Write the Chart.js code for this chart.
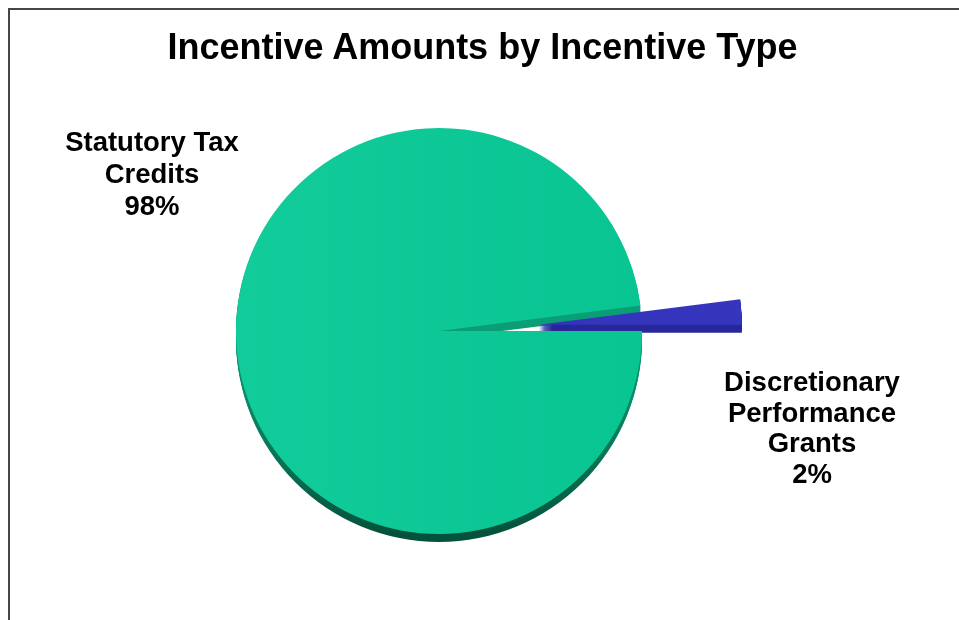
<!DOCTYPE html>
<html>
<head>
<meta charset="utf-8">
<script src="https://cdn.jsdelivr.net/npm/chart.js@4"></script>
<style>
  html, body { margin: 0; padding: 0; background: #fff; }
  body { width: 959px; height: 620px; position: relative; overflow: hidden; font-family: Arial, "Liberation Sans", sans-serif; }
  .frame { position: absolute; left: 8px; top: 8px; width: 1000px; height: 700px; border-left: 2px solid #474747; border-top: 2px solid #474747; }
  #wrap { position: absolute; left: 0; top: 0; width: 959px; height: 620px; }
  .title { position: absolute; left: 0; width: 965px; top: 26px; text-align: center; font-weight: bold; font-size: 36px; color: #000; }
  .lbl { position: absolute; text-align: center; font-weight: bold; font-size: 27.5px; color: #000; width: 260px; }
</style>
</head>
<body>
<div class="frame"></div>
<div id="wrap"><canvas id="myChart" width="959" height="620"></canvas></div>
<div class="title" id="chartTitle"></div>
<div class="lbl" id="lbl0" style="left:22px; top:126px; line-height:32px;"></div>
<div class="lbl" id="lbl1" style="left:682px; top:367px; line-height:30.5px;"></div>

<script>
const chartTitle = 'Incentive Amounts by Incentive Type'
const categories = ['Statutory Tax Credits', 'Discretionary Performance Grants']
const labelLines = [['Statutory Tax', 'Credits'], ['Discretionary', 'Performance', 'Grants']]
const shares = [98, 2]
const topColors = ['#0bc692', '#3434bc']
const sideColors = ['#0a9c74', '#27279a']
const explode = [0, 100]

document.getElementById('chartTitle').innerText = chartTitle
labelLines.forEach((lines, i) => {
  document.getElementById('lbl' + i).innerHTML = lines.concat(shares[i] + '%').join('<br>')
})

// pull slices out along their middle angle (chart.js offset also grows the radius)
const explodePlugin = {
  id: 'explode',
  afterDatasetUpdate(chart, args) {
    chart.getDatasetMeta(args.index).data.forEach((arc, i) => {
      const mid = (arc.startAngle + arc.endAngle) / 2
      arc.x += Math.cos(mid) * explode[i]
      arc.y += Math.sin(mid) * explode[i]
    })
  }
}

// darker copies of every slice stacked underneath, so the pie looks thick
const depthPlugin = {
  id: 'depth',
  beforeDatasetsDraw(chart) {
    const ctx = chart.ctx
    const meta = chart.getDatasetMeta(0)
    const depth = 8
    meta.data.forEach((arc, i) => {
      const cx = arc.x
      const cy = arc.y
      let fill = sideColors[i]
      if (i === 0) {
        const g = ctx.createLinearGradient(0, cy, 0, cy + arc.outerRadius)
        g.addColorStop(0, '#0a9e76')
        g.addColorStop(0.55, '#087a5a')
        g.addColorStop(1, '#05523c')
        fill = g
      }
      ctx.save()
      ctx.fillStyle = fill
      for (let d = 1; d <= depth; d++) {
        ctx.beginPath()
        ctx.moveTo(cx, cy + d)
        ctx.arc(cx, cy + d, arc.outerRadius, arc.startAngle, arc.endAngle)
        ctx.closePath()
        ctx.fill()
      }
      ctx.restore()
    })
  }
}

function faceColor(context) {
  const i = context.dataIndex
  const area = context.chart.chartArea
  if (!area) return topColors[i]
  const g = context.chart.ctx.createLinearGradient(area.left + 200, 0, area.right, 0)
  if (i === 0) {
    g.addColorStop(0, '#13cc9b')
    g.addColorStop(1, '#03c18d')
  } else {
    g.addColorStop(0, '#3131b6')
    g.addColorStop(1, '#3636c0')
  }
  return g
}

const config = {
  type: 'pie',
  data: {
    labels: categories,
    datasets: [{
      data: shares,
      backgroundColor: faceColor,
      borderWidth: 0,
      radius: 203
    }]
  },
  options: {
    responsive: false,
    animation: false,
    events: [],
    rotation: 90,
    layout: { padding: { left: 0, right: 81, top: 42, bottom: 0 } },
    plugins: {
      legend: { display: false },
      tooltip: { enabled: false },
      title: { display: false }
    }
  },
  plugins: [explodePlugin, depthPlugin]
}

window.myChart = new Chart(document.getElementById('myChart'), config)
</script>
</body>
</html>
